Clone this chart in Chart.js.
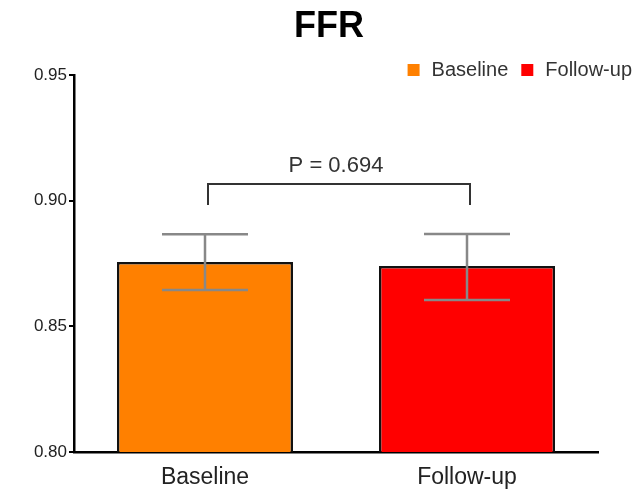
<!DOCTYPE html>
<html>
<head>
<meta charset="utf-8">
<title>FFR</title>
<script src="https://cdn.jsdelivr.net/npm/chart.js@4/dist/chart.umd.min.js"></script>
<style>
  html, body { margin: 0; padding: 0; background: #fff; }
  #grafico { display: block; }
</style>
</head>
<body>
<canvas id="grafico" width="641" height="496"></canvas>
<script>
const titulo = "FFR";
const categorias = ["Baseline", "Follow-up"];
const medias = [0.8756, 0.8740];
const errInf = [0.8645, 0.8605];
const errSup = [0.8866, 0.8867];
const colores = ["#FF8000", "#FF0000"];
const ticksY = [0.80, 0.85, 0.90, 0.95];
const textoP = "P = 0.694";
const nivelP = 0.9066;

const FUENTE = "'Liberation Sans', Arial, Helvetica, sans-serif";

// barras de error + corchete con el valor P
const anotaciones = {
  id: "anotaciones",
  afterDatasetsDraw(chart) {
    const { ctx, scales: { x, y } } = chart;
    ctx.save();
    ctx.strokeStyle = "#888";
    ctx.lineWidth = 2.5;
    categorias.forEach((c, i) => {
      const cx = x.getPixelForValue(i);
      const yTop = y.getPixelForValue(errSup[i]);
      const yBot = y.getPixelForValue(errInf[i]);
      ctx.beginPath();
      ctx.moveTo(cx, yTop); ctx.lineTo(cx, yBot);
      ctx.moveTo(cx - 43, yTop); ctx.lineTo(cx + 43, yTop);
      ctx.moveTo(cx - 43, yBot); ctx.lineTo(cx + 43, yBot);
      ctx.stroke();
    });

    const c0 = x.getPixelForValue(0);
    const c1 = x.getPixelForValue(1);
    const x0 = c0 + 3, x1 = c1 + 3;
    const yb = y.getPixelForValue(nivelP);
    ctx.strokeStyle = "#333";
    ctx.lineWidth = 2;
    ctx.beginPath();
    ctx.moveTo(x0, yb + 21); ctx.lineTo(x0, yb);
    ctx.lineTo(x1, yb); ctx.lineTo(x1, yb + 21);
    ctx.stroke();

    ctx.fillStyle = "#333";
    ctx.font = "22px " + FUENTE;
    ctx.textAlign = "center";
    ctx.textBaseline = "alphabetic";
    ctx.fillText(textoP, (c0 + c1) / 2, yb - 12);
    ctx.restore();
  }
};

// título y leyenda (arriba a la derecha, a la altura del tope del eje)
const cabecera = {
  id: "cabecera",
  afterDraw(chart) {
    const { ctx, chartArea } = chart;
    ctx.save();
    ctx.fillStyle = "#000";
    ctx.font = "bold 36px " + FUENTE;
    ctx.textAlign = "center";
    ctx.textBaseline = "alphabetic";
    ctx.fillText(titulo, 329, 37);

    const items = chart.data.datasets.map(d => ({ texto: d.label, color: d.backgroundColor }));
    ctx.font = "20px " + FUENTE;
    ctx.textAlign = "left";
    ctx.textBaseline = "middle";
    const caja = 12, hueco = 12, sep = 13;
    let ancho = 0;
    items.forEach((it, i) => {
      ancho += caja + hueco + ctx.measureText(it.texto).width + (i < items.length - 1 ? sep : 0);
    });
    let px = chart.width - 9 - ancho;
    const py = chartArea.top - 5;
    items.forEach(it => {
      ctx.fillStyle = it.color;
      ctx.fillRect(px, py - caja / 2, caja, caja);
      px += caja + hueco;
      ctx.fillStyle = "#333";
      ctx.fillText(it.texto, px, py);
      px += ctx.measureText(it.texto).width + sep;
    });
    ctx.restore();
  }
};

new Chart(document.getElementById("grafico"), {
  type: "bar",
  data: {
    labels: categorias,
    datasets: categorias.map((c, i) => ({
      label: c,
      data: categorias.map((_, j) => (j === i ? medias[i] : null)),
      backgroundColor: colores[i],
      borderColor: "#111",
      borderWidth: 2.5,
      grouped: false,
      categoryPercentage: 1,
      barPercentage: 0.672
    }))
  },
  options: {
    responsive: false,
    animation: false,
    layout: { padding: { left: 0, right: 43, top: 75, bottom: 0 } },
    plugins: {
      legend: { display: false },
      tooltip: { enabled: false },
      title: { display: false }
    },
    scales: {
      x: {
        grid: { display: true, drawOnChartArea: false, drawTicks: false },
        border: { display: true, color: "#000", width: 2.5 },
        ticks: { color: "#222", font: { family: FUENTE, size: 23 }, padding: 12 },
        afterFit(scale) { scale.height = 44; }
      },
      y: {
        min: 0.80,
        max: 0.95,
        afterBuildTicks(scale) { scale.ticks = ticksY.map(v => ({ value: v })); },
        grid: { display: true, drawOnChartArea: false, drawTicks: true, tickLength: 5, color: "#000", lineWidth: 2 },
        border: { display: true, color: "#000", width: 2.5 },
        ticks: {
          color: "#222",
          font: { family: FUENTE, size: 17 },
          padding: 2,
          callback: v => v.toFixed(2)
        },
        afterFit(scale) { scale.width = 74; }
      }
    }
  },
  plugins: [anotaciones, cabecera]
});
</script>
</body>
</html>
